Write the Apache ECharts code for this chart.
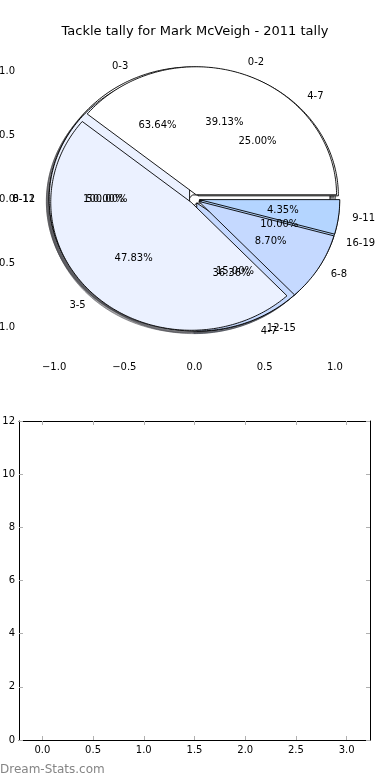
<!DOCTYPE html>
<html>
<head>
<meta charset="utf-8">
<script src="https://cdn.jsdelivr.net/npm/echarts@6/dist/echarts.min.js"></script>
<style>html,body{margin:0;padding:0;background:#fff}#c{width:390px;height:780px}</style>
</head>
<body>
<div id="c"></div>
<script>
// ---- data ----
const chartTitle = 'Tackle tally for Mark McVeigh - 2011 tally';
const pieA_labels = ['0-3', '4-7'];
const pieA_values = [7, 4];
const pieB_labels = ['0-2', '3-5', '6-8', '9-11'];
const pieB_values = [9, 11, 2, 1];
const pieC_labels = ['4-7', '8-11', '12-15', '16-19'];
const pieC_values = [5, 10, 3, 2];
const pieD_labels = ['0-12'];
const pieD_values = [1];
const pieTicks = [-1, -0.5, 0, 0.5, 1];
const barXTicks = [0, 0.5, 1, 1.5, 2, 2.5, 3];
const barYTicks = [0, 2, 4, 6, 8, 10, 12];
const watermark = 'Dream-Stats.com';

// ---- build ----
const FONT = 'DejaVu Sans';
const sliceColors = ['#ffffff', '#ebf1ff', '#c5d9ff', '#b4d5ff'];
const EXPLODE = 0.035;
const pies = [
  [pieD_labels, pieD_values],
  [pieA_labels, pieA_values],
  [pieC_labels, pieC_values],
  [pieB_labels, pieB_values]
];
const slices = [];
pies.forEach(([labels, values]) => {
  const total = values.reduce((a, b) => a + b, 0);
  let acc = 0;
  values.forEach((v, i) => {
    const t1 = acc / total * 360;
    acc += v;
    const t2 = acc / total * 360;
    slices.push({ value: [t1, t2, i, v / total * 100], label: labels[i] });
  });
});

function shade(hex) {
  const r = parseInt(hex.slice(1, 3), 16), g = parseInt(hex.slice(3, 5), 16), b = parseInt(hex.slice(5, 7), 16);
  return 'rgba(' + Math.round(r * 0.3) + ',' + Math.round(g * 0.3) + ',' + Math.round(b * 0.3) + ',0.5)';
}

function wedgePoints(api, t1, t2, dx, dy) {
  const tm = (t1 + t2) / 2 * Math.PI / 180;
  const cx = EXPLODE * Math.cos(tm) + dx, cy = EXPLODE * Math.sin(tm) + dy;
  const pts = [];
  const full = (t2 - t1) >= 359.999;
  if (!full) pts.push(api.coord([cx, cy]));
  const n = Math.max(4, Math.ceil(t2 - t1));
  for (let k = 0; k <= n; k++) {
    const a = (t1 + (t2 - t1) * k / n) * Math.PI / 180;
    pts.push(api.coord([cx + Math.cos(a), cy + Math.sin(a)]));
  }
  return pts;
}

const fmtPie = v => (v < 0 ? '\u2212' : '') + Math.abs(v).toFixed(1);
const tickStyle = { inside: true, length: 4, lineStyle: { color: '#b0b0b0', width: 1 } };
const labelStyle = { fontFamily: FONT, fontSize: 10, color: '#000' };

const option = {
  animation: false,
  title: {
    text: chartTitle, left: 'center', top: 20,
    textStyle: { fontFamily: FONT, fontSize: 13, fontWeight: 'normal', color: '#000' }
  },
  grid: [
    { left: 19, top: 39, width: 351, height: 320, containLabel: false, outerBoundsMode: 'none' },
    { left: 19, top: 421, width: 351, height: 319, containLabel: false, outerBoundsMode: 'none' }
  ],
  xAxis: [
    { gridIndex: 0, type: 'value', min: -1.25, max: 1.25, position: 'bottom',
      axisLine: { show: false }, splitLine: { show: false },
      axisTick: Object.assign({ customValues: pieTicks }, tickStyle),
      axisLabel: Object.assign({ customValues: pieTicks, formatter: fmtPie, margin: 3 }, labelStyle) },
    { gridIndex: 0, type: 'value', min: -1.25, max: 1.25, position: 'top',
      axisLine: { show: false }, splitLine: { show: false }, axisLabel: { show: false },
      axisTick: Object.assign({ customValues: pieTicks }, tickStyle) },
    { gridIndex: 1, type: 'value', min: -0.23, max: 3.23, position: 'bottom',
      axisLine: { show: true, onZero: false, lineStyle: { color: '#000', width: 1 } }, splitLine: { show: false },
      axisTick: Object.assign({ customValues: barXTicks }, tickStyle),
      axisLabel: Object.assign({ customValues: barXTicks, formatter: v => v.toFixed(1), margin: 5 }, labelStyle) },
    { gridIndex: 1, type: 'value', min: -0.23, max: 3.23, position: 'top',
      axisLine: { show: true, onZero: false, lineStyle: { color: '#000', width: 1 } }, splitLine: { show: false },
      axisLabel: { show: false },
      axisTick: Object.assign({ customValues: barXTicks }, tickStyle) }
  ],
  yAxis: [
    { gridIndex: 0, type: 'value', min: -1.25, max: 1.25, position: 'left',
      axisLine: { show: false }, splitLine: { show: false },
      axisTick: Object.assign({ customValues: pieTicks }, tickStyle),
      axisLabel: Object.assign({ customValues: pieTicks, formatter: fmtPie, margin: 4 }, labelStyle) },
    { gridIndex: 0, type: 'value', min: -1.25, max: 1.25, position: 'right',
      axisLine: { show: false }, splitLine: { show: false }, axisLabel: { show: false },
      axisTick: Object.assign({ customValues: pieTicks }, tickStyle) },
    { gridIndex: 1, type: 'value', min: 0, max: 12, interval: 2, position: 'left',
      axisLine: { show: true, onZero: false, lineStyle: { color: '#000', width: 1 } }, splitLine: { show: false },
      axisTick: tickStyle,
      axisLabel: Object.assign({ margin: 4 }, labelStyle) },
    { gridIndex: 1, type: 'value', min: 0, max: 12, interval: 2, position: 'right',
      axisLine: { show: true, onZero: false, lineStyle: { color: '#000', width: 1 } }, splitLine: { show: false },
      axisLabel: { show: false }, axisTick: tickStyle }
  ],
  series: [
    { // shadows (drawn under all wedges)
      type: 'custom', xAxisIndex: 0, yAxisIndex: 0, clip: false, z: 1,
      encode: { x: -1, y: -1 },
      data: slices,
      renderItem: (params, api) => {
        const t1 = api.value(0), t2 = api.value(1), ci = api.value(2);
        return { type: 'polygon', shape: { points: wedgePoints(api, t1, t2, -0.02, -0.02) },
          style: { fill: shade(sliceColors[ci]), stroke: shade(sliceColors[ci]), lineWidth: 1 } };
      }
    },
    { // wedges
      type: 'custom', xAxisIndex: 0, yAxisIndex: 0, clip: false, z: 2,
      encode: { x: -1, y: -1 },
      data: slices,
      renderItem: (params, api) => {
        const t1 = api.value(0), t2 = api.value(1), ci = api.value(2);
        return { type: 'polygon', shape: { points: wedgePoints(api, t1, t2, 0, 0) },
          style: { fill: sliceColors[ci], stroke: '#000', lineWidth: 0.9 } };
      }
    },
    { // labels and percentages
      type: 'custom', xAxisIndex: 0, yAxisIndex: 0, clip: false, z: 3,
      encode: { x: -1, y: -1 },
      data: slices,
      renderItem: (params, api) => {
        const t1 = api.value(0), t2 = api.value(1), pct = api.value(3);
        const tm = (t1 + t2) / 2 * Math.PI / 180;
        const cx = EXPLODE * Math.cos(tm), cy = EXPLODE * Math.sin(tm);
        const lx = cx + 1.1 * Math.cos(tm), ly = cy + 1.1 * Math.sin(tm);
        const px = cx + 0.6 * Math.cos(tm), py = cy + 0.6 * Math.sin(tm);
        const lp = api.coord([lx, ly]), pp = api.coord([px, py]);
        return { type: 'group', children: [
          { type: 'text', x: lp[0], y: lp[1], style: { text: slices[params.dataIndex].label,
            font: '10px "' + FONT + '"', fill: '#000', align: lx > 0 ? 'left' : 'right', verticalAlign: 'middle' } },
          { type: 'text', x: pp[0], y: pp[1], style: { text: pct.toFixed(2) + '%',
            font: '10px "' + FONT + '"', fill: '#000', align: 'center', verticalAlign: 'middle' } }
        ] };
      }
    }
  ],
  graphic: [
    { type: 'text', left: 0, top: 764, style: { text: watermark, font: '12px "' + FONT + '"', fill: '#858585' } }
  ]
};

const chart = echarts.init(document.getElementById('c'), null, { renderer: 'canvas' });
chart.setOption(option);
</script>
</body>
</html>
